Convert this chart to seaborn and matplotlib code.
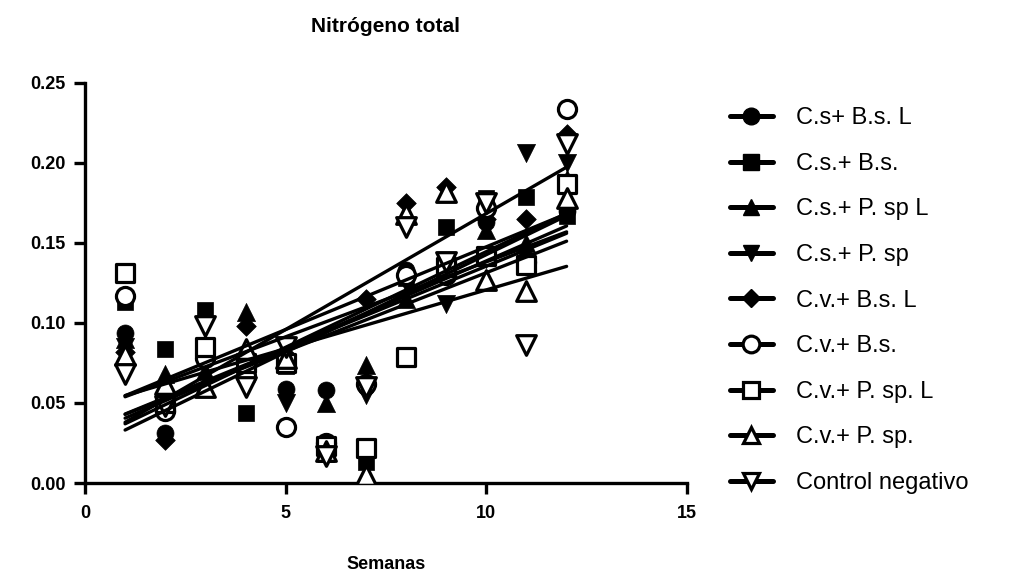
import numpy as np
import pandas as pd
import matplotlib
matplotlib.use("Agg")
import matplotlib.pyplot as plt
from matplotlib.lines import Line2D
import seaborn as sns

sns.set_theme(style="ticks")
plt.rcParams['font.family'] = ['Liberation Sans', 'DejaVu Sans']
plt.rcParams['text.color'] = 'black'
plt.rcParams['axes.labelcolor'] = 'black'
plt.rcParams['xtick.color'] = 'black'
plt.rcParams['ytick.color'] = 'black'

weeks = [1, 2, 3, 4, 5, 6, 7, 8, 9, 10, 11, 12]
labels = ["C.s+ B.s. L", "C.s.+ B.s.", "C.s.+ P. sp L", "C.s.+ P. sp",
          "C.v.+ B.s. L", "C.v.+ B.s.", "C.v.+ P. sp. L", "C.v.+ P. sp.",
          "Control negativo"]

cs_bs_l = [0.094, 0.031, 0.080, 0.072, 0.059, 0.058, 0.060, 0.133, 0.135, 0.163, 0.140, 0.170]
cs_bs = [0.113, 0.084, 0.108, 0.044, 0.073, 0.018, 0.013, 0.128, 0.160, 0.178, 0.179, 0.167]
cs_psp_l = [0.090, 0.068, 0.070, 0.107, 0.082, 0.050, 0.074, 0.115, 0.183, 0.158, 0.150, 0.190]
cs_psp = [0.085, 0.050, 0.098, 0.060, 0.050, 0.020, 0.055, 0.125, 0.112, 0.140, 0.206, 0.200]
cv_bs_l = [0.082, 0.027, 0.080, 0.098, 0.080, 0.022, 0.115, 0.175, 0.185, 0.165, 0.165, 0.218]
cv_bs = [0.117, 0.045, 0.078, 0.067, 0.035, 0.025, 0.062, 0.130, 0.130, 0.172, 0.138, 0.234]
cv_psp_l = [0.131, 0.050, 0.085, 0.075, 0.075, 0.023, 0.022, 0.079, 0.135, 0.142, 0.136, 0.187]
cv_psp = [0.080, 0.062, 0.060, 0.084, 0.078, 0.020, 0.005, 0.168, 0.182, 0.127, 0.120, 0.178]
control = [0.068, 0.048, 0.098, 0.060, 0.085, 0.017, 0.060, 0.160, 0.138, 0.175, 0.086, 0.212]

series = [cs_bs_l, cs_bs, cs_psp_l, cs_psp, cv_bs_l, cv_bs, cv_psp_l, cv_psp, control]
markers = ['o', 's', '^', 'v', 'D', 'o', 's', '^', 'v']
filled = [True, True, True, True, True, False, False, False, False]
sizes = [150, 140, 170, 170, 100, 170, 170, 200, 200]

fig = plt.figure(figsize=(10.3, 5.75), dpi=100)
ax = fig.add_axes([0.0825, 0.16, 0.5845, 0.6957])

for ys, m, f, s in zip(series, markers, filled, sizes):
    df = pd.DataFrame({"x": weeks, "y": ys})
    sns.regplot(data=df, x="x", y="y", ax=ax, ci=None, truncate=True,
                marker=m,
                scatter_kws=dict(s=s, facecolors='black' if f else 'white',
                                 edgecolors='black', linewidths=2.3 if not f else 0.5,
                                 alpha=1, zorder=3),
                line_kws=dict(color='black', lw=2.4, zorder=4))

ax.set_xlim(0, 15)
ax.set_ylim(0, 0.25)
ax.set_xticks([0, 5, 10, 15])
ax.set_yticks([0, 0.05, 0.10, 0.15, 0.20, 0.25])
ax.set_yticklabels(["0.00", "0.05", "0.10", "0.15", "0.20", "0.25"])
for sp in ['top', 'right']:
    ax.spines[sp].set_visible(False)
for sp in ['left', 'bottom']:
    ax.spines[sp].set_linewidth(2.4)
    ax.spines[sp].set_color('black')
ax.tick_params(axis='both', width=2.4, length=8, color='black', labelcolor='black', labelsize=13)
ax.tick_params(axis='y', pad=6)
ax.tick_params(axis='x', pad=8)
for lab in ax.get_xticklabels() + ax.get_yticklabels():
    lab.set_fontweight('bold')
ax.set_xlabel("Semanas", fontsize=13, fontweight='bold', labelpad=24, color='black')
ax.set_ylabel("")
ax.set_title("Nitrógeno total", fontsize=15, fontweight='bold', pad=37, color='black')

handles = []
for lab, m, f, s in zip(labels, markers, filled, sizes):
    handles.append(Line2D([0], [0], color='black', lw=3.6, marker=m,
                          markersize=12 if m != 'D' else 9,
                          markerfacecolor='black' if f else 'white',
                          markeredgecolor='black', markeredgewidth=2.3 if not f else 1,
                          label=lab))
leg = fig.legend(handles=handles, loc='upper left', bbox_to_anchor=(0.6996, 0.830),
                 frameon=False, fontsize=17, handlelength=1.8, handletextpad=1.0,
                 labelspacing=1.0, borderaxespad=0)
for t in leg.get_texts():
    t.set_color('black')

fig.savefig("out.png", dpi=100)
